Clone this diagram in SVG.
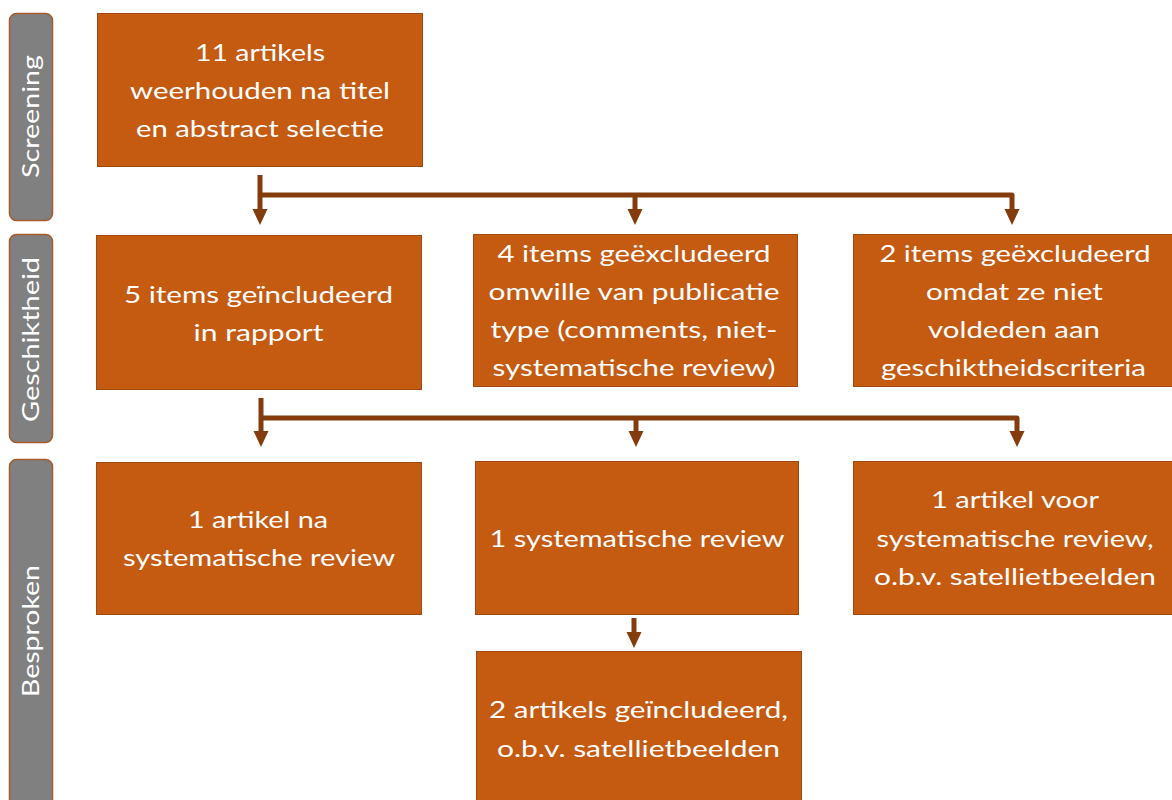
<svg xmlns="http://www.w3.org/2000/svg" width="1172" height="800" viewBox="0 0 1172 800">
  <defs>
    <style>
      .lane { fill: #808080; stroke: #A85A2A; stroke-width: 1.5; }
      .box { fill: #C55A11; stroke: #A04A12; stroke-width: 1; }
      .lbl { font-family: Lato, "Open Sans", "Liberation Sans", sans-serif; font-size: 23px; fill: #FFFFFF; text-anchor: middle; }
      .lanelbl { font-family: Lato, "Open Sans", "Liberation Sans", sans-serif; font-size: 24px; fill: #FFFFFF; text-anchor: middle; }
      .conn { fill: none; stroke: #843C0C; stroke-width: 5; stroke-linejoin: round; }
    </style>
    <marker id="head" markerUnits="userSpaceOnUse" markerWidth="17" markerHeight="16" refX="0" refY="7.5" orient="auto">
      <path d="M0,0 L16,7.5 L0,15 z" fill="#843C0C"/>
    </marker>
  </defs>

  <rect width="1172" height="800" fill="#FFFFFF"/>

  <!-- phase lanes -->
  <g id="lane-screening">
    <rect class="lane" x="9.5" y="13.5" width="43" height="207" rx="7"/>
    <text class="lanelbl" transform="translate(38.5,116.5) rotate(-90)" textLength="123" lengthAdjust="spacingAndGlyphs">Screening</text>
  </g>
  <g id="lane-geschiktheid">
    <rect class="lane" x="9.5" y="234.5" width="43" height="208" rx="7"/>
    <text class="lanelbl" transform="translate(38.5,339.5) rotate(-90)" textLength="165" lengthAdjust="spacingAndGlyphs">Geschiktheid</text>
  </g>
  <g id="lane-besproken">
    <rect class="lane" x="9.5" y="459.5" width="43" height="350" rx="7"/>
    <text class="lanelbl" transform="translate(38.5,631) rotate(-90)" textLength="132" lengthAdjust="spacingAndGlyphs">Besproken</text>
  </g>

  <!-- connectors -->
  <g id="connectors">
    <path class="conn" d="M260,175 V209" marker-end="url(#head)"/>
    <path class="conn" d="M260,195 H1012 V209" marker-end="url(#head)"/>
    <path class="conn" d="M635,195 V209" marker-end="url(#head)"/>
    <path class="conn" d="M261,398 V431" marker-end="url(#head)"/>
    <path class="conn" d="M261,418 H1017 V431" marker-end="url(#head)"/>
    <path class="conn" d="M636,418 V431" marker-end="url(#head)"/>
    <path class="conn" d="M634,618 V632" marker-end="url(#head)"/>
  </g>

  <!-- nodes -->
  <g id="n-screening">
    <rect class="box" x="97.5" y="13.5" width="325" height="153"/>
    <text class="lbl" x="260" y="61" textLength="130" lengthAdjust="spacingAndGlyphs">11 artikels</text>
    <text class="lbl" x="260" y="99" textLength="260" lengthAdjust="spacingAndGlyphs">weerhouden na titel</text>
    <text class="lbl" x="260" y="137" textLength="248" lengthAdjust="spacingAndGlyphs">en abstract selectie</text>
  </g>
  <g id="n-included">
    <rect class="box" x="96.5" y="235.5" width="325" height="154"/>
    <text class="lbl" x="258.5" y="303" textLength="269" lengthAdjust="spacingAndGlyphs">5 items geïncludeerd</text>
    <text class="lbl" x="258.5" y="341" textLength="130" lengthAdjust="spacingAndGlyphs">in rapport</text>
  </g>
  <g id="n-excl-type">
    <rect class="box" x="473.5" y="234.5" width="324" height="152"/>
    <text class="lbl" x="634" y="262" textLength="273" lengthAdjust="spacingAndGlyphs">4 items geëxcludeerd</text>
    <text class="lbl" x="634" y="300" textLength="291" lengthAdjust="spacingAndGlyphs">omwille van publicatie</text>
    <text class="lbl" x="634" y="338" textLength="287" lengthAdjust="spacingAndGlyphs">type (comments, niet-</text>
    <text class="lbl" x="634" y="376" textLength="283" lengthAdjust="spacingAndGlyphs">systematische review)</text>
  </g>
  <g id="n-excl-criteria">
    <rect class="box" x="853.5" y="234.5" width="320" height="152"/>
    <text class="lbl" x="1015" y="262" textLength="271" lengthAdjust="spacingAndGlyphs">2 items geëxcludeerd</text>
    <text class="lbl" x="1014.5" y="300" textLength="177" lengthAdjust="spacingAndGlyphs">omdat ze niet</text>
    <text class="lbl" x="1014" y="338" textLength="172" lengthAdjust="spacingAndGlyphs">voldeden aan</text>
    <text class="lbl" x="1013.5" y="376" textLength="265" lengthAdjust="spacingAndGlyphs">geschiktheidscriteria</text>
  </g>
  <g id="n-after-review">
    <rect class="box" x="96.5" y="462.5" width="325" height="152"/>
    <text class="lbl" x="258" y="528" textLength="140" lengthAdjust="spacingAndGlyphs">1 artikel na</text>
    <text class="lbl" x="259" y="566" textLength="272" lengthAdjust="spacingAndGlyphs">systematische review</text>
  </g>
  <g id="n-review">
    <rect class="box" x="475.5" y="461.5" width="323" height="153"/>
    <text class="lbl" x="637" y="547" textLength="295" lengthAdjust="spacingAndGlyphs">1 systematische review</text>
  </g>
  <g id="n-before-review">
    <rect class="box" x="853.5" y="461.5" width="320" height="153"/>
    <text class="lbl" x="1015" y="508" textLength="168" lengthAdjust="spacingAndGlyphs">1 artikel voor</text>
    <text class="lbl" x="1015" y="547" textLength="277" lengthAdjust="spacingAndGlyphs">systematische review,</text>
    <text class="lbl" x="1015" y="585" textLength="282" lengthAdjust="spacingAndGlyphs">o.b.v. satellietbeelden</text>
  </g>
  <g id="n-satellite">
    <rect class="box" x="476.5" y="651.5" width="325" height="160"/>
    <text class="lbl" x="638.5" y="718" textLength="299" lengthAdjust="spacingAndGlyphs">2 artikels geïncludeerd,</text>
    <text class="lbl" x="638.5" y="757" textLength="283" lengthAdjust="spacingAndGlyphs">o.b.v. satellietbeelden</text>
  </g>
</svg>
